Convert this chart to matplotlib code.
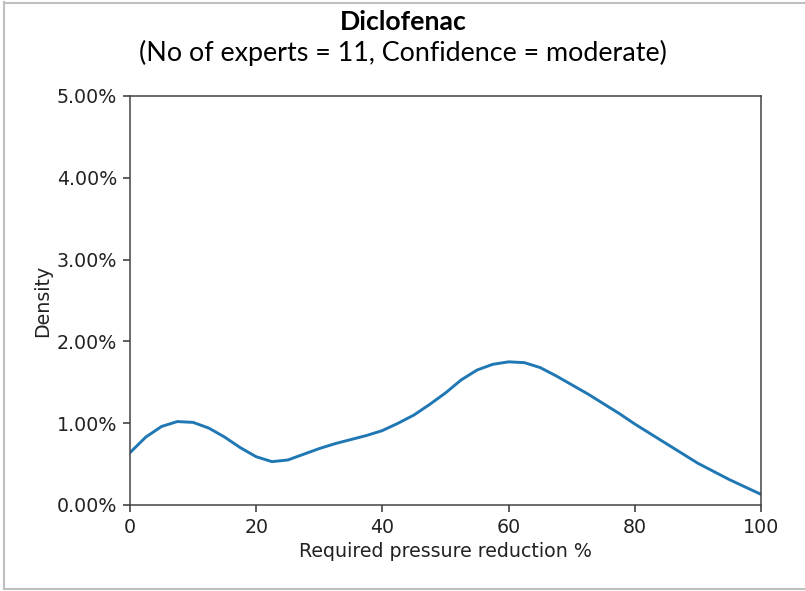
import matplotlib
matplotlib.use("Agg")
import matplotlib.pyplot as plt
from matplotlib.ticker import FuncFormatter

# Data (density in %)
x_vals = [0, 2.5, 5, 7.5, 10, 12.5, 15, 17.5, 20, 22.5, 25, 27.5, 30, 32.5, 35,
          37.5, 40, 42.5, 45, 47.5, 50, 52.5, 55, 57.5, 60, 62.5, 65, 67.5, 70,
          72.5, 75, 77.5, 80, 82.5, 85, 87.5, 90, 92.5, 95, 97.5, 100]
density = [0.64, 0.83, 0.96, 1.02, 1.01, 0.94, 0.83, 0.70, 0.59, 0.53, 0.55, 0.62,
           0.69, 0.75, 0.80, 0.85, 0.91, 1.00, 1.10, 1.23, 1.37, 1.53, 1.65, 1.72,
           1.75, 1.74, 1.68, 1.58, 1.47, 1.36, 1.24, 1.12, 0.99, 0.87, 0.75, 0.63,
           0.51, 0.41, 0.31, 0.22, 0.13]
x_ticks = [0, 20, 40, 60, 80, 100]
y_ticks = [0, 1, 2, 3, 4, 5]

title = "Diclofenac"
subtitle = "(No of experts = 11, Confidence = moderate)"
xlabel = "Required pressure reduction %"
ylabel = "Density"

fs = 13.7
fig = plt.figure(figsize=(8.05, 5.91), dpi=100)
ax = fig.add_axes([130/805, 1-505/591, (761-130)/805, (505-96)/591])

ax.plot(x_vals, density, color="#1f77b4", lw=2.1, solid_joinstyle="round",
        solid_capstyle="round")
ax.set_xlim(0, 100)
ax.set_ylim(0, 5)
ax.set_xticks(x_ticks)
ax.set_yticks(y_ticks)
ax.yaxis.set_major_formatter(FuncFormatter(lambda v, p: f"{v:.2f}%"))
ax.tick_params(labelsize=fs, colors="#333333", labelcolor="#222222",
               length=4.8, width=1.1, pad=4.5)
for s in ax.spines.values():
    s.set_color("#444444")
    s.set_linewidth(1.1)
ax.set_xlabel(xlabel, fontsize=fs, color="#222222", labelpad=4)
ax.set_ylabel(ylabel, fontsize=fs, color="#222222", labelpad=3)

fig.text(403/805, 1-22/591, title, ha="center", va="center", fontsize=19.2,
         fontweight="bold", family=["Lato", "DejaVu Sans"], color="black")
fig.text(403/805, 1-53/591, subtitle, ha="center", va="center", fontsize=19.4,
         family=["Lato", "DejaVu Sans"], color="black")

# page border (top, left, bottom)
fig.add_artist(plt.Line2D([4/805, 4/805], [1-589/591, 1-2/591], transform=fig.transFigure,
                          color="#bfbfbf", lw=1.5))
fig.add_artist(plt.Line2D([4/805, 1], [1-2.5/591, 1-2.5/591], transform=fig.transFigure,
                          color="#bfbfbf", lw=1.5))
fig.add_artist(plt.Line2D([4/805, 1], [1-589/591, 1-589/591], transform=fig.transFigure,
                          color="#bfbfbf", lw=1.5))

fig.savefig("out.png", dpi=100)
